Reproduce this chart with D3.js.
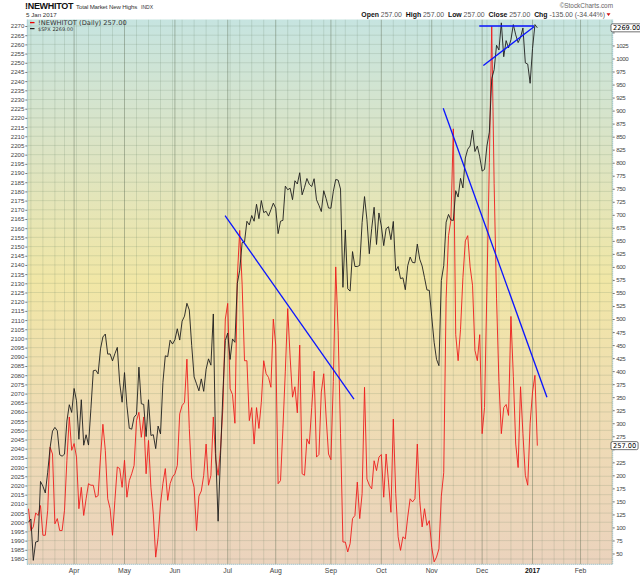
<!DOCTYPE html>
<html>
<head>
<meta charset="utf-8">
<script src="https://cdn.jsdelivr.net/npm/d3@7"></script>
<style>
    html, body { margin: 0; padding: 0; background: #fff; }
    svg { display: block; }
</style>
</head>
<body>
<svg id="chart" width="640" height="576"></svg>
<script>
(function () {
    'use strict';

    // market holidays inside the visible window
    var holidays = ['2016-03-25', '2016-05-30', '2016-07-04', '2016-09-05',
        '2016-11-24', '2016-12-26', '2017-01-02', '2017-01-16', '2017-02-20'];

    // $SPX daily close, 4 Mar 2016 .. 5 Jan 2017
    var spxClose = [
        1999.99, 2001.76, 1979.26, 1989.26, 1989.57, 2022.19, 2019.64, 2015.93, 2027.22, 2040.59,
        2049.58, 2051.60, 2049.80, 2036.71, 2035.94, 2037.05, 2055.01, 2063.95, 2059.74,
        2072.78, 2066.13, 2045.17, 2066.66, 2041.91, 2047.60, 2041.99, 2061.72, 2082.42, 2082.78,
        2080.73, 2094.34, 2100.80, 2102.40, 2091.48, 2091.58, 2087.79, 2091.70, 2095.15, 2075.81, 2065.30,
        2081.43, 2063.37, 2051.12, 2050.63, 2057.14, 2058.69, 2084.39, 2064.46, 2064.11, 2046.61,
        2066.66, 2047.21, 2047.63, 2040.04, 2052.32, 2048.04, 2076.06, 2090.54, 2090.10, 2099.06, 2096.95,
        2099.33, 2105.26, 2099.13, 2109.41, 2112.13, 2119.12, 2115.48, 2096.07, 2079.06, 2075.32,
        2071.50, 2077.99, 2071.22, 2083.25, 2088.90, 2085.45, 2113.32, 2037.41, 2000.54, 2036.09, 2070.77, 2098.86,
        2102.95, 2088.55, 2099.73, 2097.90, 2129.90, 2137.16, 2152.14, 2152.43, 2163.75, 2161.74,
        2166.89, 2163.78, 2173.02, 2165.17, 2175.03, 2168.48, 2169.18, 2166.58, 2170.06, 2173.60,
        2170.84, 2157.03, 2163.79, 2164.25, 2182.87, 2180.89, 2181.74, 2175.49, 2185.79, 2184.05,
        2190.15, 2178.15, 2182.22, 2187.02, 2183.87, 2182.64, 2186.90, 2175.44, 2172.47, 2169.04,
        2180.38, 2176.12, 2170.95,
        2170.86, 2179.98, 2186.48, 2186.16, 2181.30, 2127.81, 2159.04, 2127.02, 2125.77, 2147.26,
        2139.16, 2139.12, 2139.76, 2163.12, 2177.18, 2164.69, 2146.10, 2159.93, 2171.37, 2151.13, 2168.27,
        2161.20, 2150.49, 2159.73, 2160.77, 2153.74, 2163.66, 2136.73, 2139.18, 2132.55, 2132.98,
        2126.50, 2139.60, 2144.29, 2141.34, 2141.16, 2151.33, 2143.16, 2139.43, 2133.04, 2126.41, 2126.15,
        2111.72, 2097.94, 2088.66, 2085.18, 2131.52, 2139.56, 2163.26, 2167.48, 2164.45, 2164.20,
        2180.39, 2176.94, 2187.12, 2181.90, 2198.18, 2202.94, 2204.72, 2213.35, 2201.72, 2204.66, 2198.81,
        2191.08, 2191.95, 2204.71, 2212.23, 2241.35, 2246.19, 2259.53, 2256.96, 2271.72, 2253.28,
        2262.03, 2258.07, 2262.53, 2270.76, 2265.18, 2260.96, 2263.79, 2268.88, 2249.92, 2249.26, 2238.83,
        2257.83, 2270.75, 2269.00
    ];

    // !NEWHITOT daily, same days
    var newHighs = [
        136, 94, 101, 128, 123, 142, 85, 85, 133, 254,
        241, 107, 117, 94, 94, 133, 229, 312, 248, 261,
        235, 136, 177, 123, 155, 184, 181, 181, 158, 161,
        235, 298, 248, 155, 136, 85, 152, 216, 213, 177,
        229, 158, 190, 203, 219, 305, 321, 273, 312, 203,
        267, 177, 126, 43, 81, 145, 184, 213, 152, 184,
        197, 203, 219, 318, 334, 340, 423, 290, 195, 177,
        94, 160, 170, 200, 260, 181, 200, 312, 230, 200,
        250, 330, 500, 530, 366, 355, 300, 580, 670, 567,
        420, 420, 305, 330, 260, 330, 290, 340, 420, 395,
        388, 369, 500, 450, 184, 190, 290, 400, 520, 427,
        350, 370, 320, 450, 203, 200, 270, 260, 330, 400,
        235, 240, 360, 395, 312, 241, 230, 380, 600, 478,
        280, 72, 72, 53, 69, 117, 123, 187, 117, 165,
        369, 193, 181, 174, 228, 209, 235, 240, 158, 241,
        187, 129, 308, 165, 82, 56, 82, 78, 120, 155,
        149, 155, 260, 152, 101, 136, 104, 113, 62, 34,
        43, 59, 160, 205, 540, 660, 690, 865, 470, 420,
        480, 580, 650, 660, 600, 565, 440, 420, 470, 280,
        330, 560, 800, 1062, 760, 540, 380, 280, 330, 336,
        315, 505, 390, 260, 215, 370, 280, 200, 181, 300,
        360, 392, 257
    ];

    var spxTicks = d3.range(1980, 2271, 5),
        highsTicks = d3.range(50, 1051, 25),
        monthLabels = ['Apr', 'May', 'Jun', 'Jul', 'Aug', 'Sep', 'Oct', 'Nov', 'Dec', '2017', 'Feb'];

    // hand drawn trend lines: [day index, $SPX] -> [day index, $SPX]
    var trendLines = [
        [81.9, 2166.8, 135.6, 2067.0],
        [172.8, 2225.2, 216.0, 2068.0],
        [187.8, 2270.0, 210.6, 2270.0],
        [189.5, 2248.5, 210.6, 2269.6]
    ];

    var plot = { left: 27.3, right: 612.7, top: 19.5, bottom: 564.3 },
        svg = d3.select('#chart'),
        boxes = [],
        days,
        monthStarts = [],
        weekStarts = [],
        x, yL, yR, g, grad, head;

    function buildDays(count) {
        var list = [],
            d = new Date(Date.UTC(2016, 2, 4)),
            key;

        while (list.length < count) {
            key = d.toISOString().slice(0, 10);
            if (d.getUTCDay() !== 0 && d.getUTCDay() !== 6 && holidays.indexOf(key) < 0) {
                list.push(new Date(d.getTime()));
            }
            d.setUTCDate(d.getUTCDate() + 1);
        }
        return list;
    }

    function valueBox(text, yPos) {
        var box = svg.append('g'),
            label = box.append('text')
                .attr('x', 613)
                .attr('y', yPos + 2.3)
                .attr('font-family', 'DejaVu Sans')
                .attr('font-size', 6.6)
                .attr('fill', '#000')
                .text(text),
            w = label.node().getComputedTextLength();

        box.insert('rect', 'text')
            .attr('x', 611)
            .attr('y', yPos - 4)
            .attr('width', w + 4)
            .attr('height', 8)
            .attr('rx', 1.5)
            .attr('fill', '#fff')
            .attr('stroke', '#333')
            .attr('stroke-width', 0.7);
    }

    function styleAxis(a, spacing) {
        a.select('.domain').remove();
        a.selectAll('line').attr('stroke', '#777');
        a.selectAll('text')
            .attr('font-family', 'Liberation Sans')
            .attr('font-size', 6.1)
            .attr('letter-spacing', spacing)
            .attr('fill', '#444');
    }

    days = buildDays(246);
    days.forEach(function (d, i) {
        if (i === 0) {
            return;
        }
        if (d.getUTCMonth() !== days[i - 1].getUTCMonth()) {
            monthStarts.push(i);
        } else if (d.getUTCDay() < days[i - 1].getUTCDay()) {
            weekStarts.push(i);
        }
    });

    x = d3.scaleLinear().domain([-0.5, 243.4]).range([plot.left, plot.right]);
    yL = d3.scaleLinear().domain([1980, 2270]).range([559, 26]);
    yR = d3.scaleLinear().domain([50, 1000]).range([553.5, 58.5]);

    boxes = [yL(spxClose[spxClose.length - 1]), yR(newHighs[newHighs.length - 1])];

    svg.append('rect').attr('width', 640).attr('height', 576).attr('fill', '#fff');

    grad = svg.append('defs').append('linearGradient')
        .attr('id', 'bg')
        .attr('x1', 0).attr('y1', 0).attr('x2', 0).attr('y2', 1);
    [[0, '#c6e4e0'], [0.25, '#dde4c3'], [0.48, '#f1e7a6'], [0.72, '#efdcb3'], [1, '#ebd3bd']]
        .forEach(function (s) {
            grad.append('stop').attr('offset', s[0]).attr('stop-color', s[1]);
        });
    svg.select('defs').append('clipPath').attr('id', 'clip')
        .append('rect')
        .attr('x', plot.left).attr('y', plot.top)
        .attr('width', plot.right - plot.left).attr('height', plot.bottom - plot.top);

    svg.append('rect')
        .attr('x', plot.left).attr('y', plot.top)
        .attr('width', plot.right - plot.left).attr('height', plot.bottom - plot.top)
        .attr('fill', 'url(#bg)');

    g = svg.append('g').attr('clip-path', 'url(#clip)');

    // grid
    g.selectAll('line.hgrid')
        .data(spxTicks)
        .enter().append('line')
        .attr('x1', plot.left).attr('x2', plot.right)
        .attr('y1', function (d) { return yL(d); })
        .attr('y2', function (d) { return yL(d); })
        .attr('stroke', 'rgba(95,120,95,0.22)')
        .attr('stroke-width', 0.8);

    g.selectAll('line.wgrid')
        .data(weekStarts)
        .enter().append('line')
        .attr('y1', plot.top).attr('y2', plot.bottom)
        .attr('x1', function (d) { return x(d); })
        .attr('x2', function (d) { return x(d); })
        .attr('stroke', 'rgba(95,120,95,0.22)')
        .attr('stroke-width', 0.8);

    g.selectAll('line.mgrid')
        .data(monthStarts)
        .enter().append('line')
        .attr('y1', plot.top).attr('y2', plot.bottom)
        .attr('x1', function (d) { return x(d); })
        .attr('x2', function (d) { return x(d); })
        .attr('stroke', 'rgba(90,105,80,0.42)')
        .attr('stroke-width', 1);

    // series
    g.append('path')
        .datum(newHighs)
        .attr('fill', 'none')
        .attr('stroke', '#ee1c1c')
        .attr('stroke-width', 0.9)
        .attr('stroke-linejoin', 'round')
        .attr('d', d3.line()
            .x(function (d, i) { return x(i); })
            .y(function (d) { return yR(d); }));

    g.append('path')
        .datum(spxClose)
        .attr('fill', 'none')
        .attr('stroke', '#1e1e1e')
        .attr('stroke-width', 0.9)
        .attr('stroke-linejoin', 'round')
        .attr('d', d3.line()
            .x(function (d, i) { return x(i); })
            .y(function (d) { return yL(d); }));

    g.selectAll('line.trend')
        .data(trendLines)
        .enter().append('line')
        .attr('x1', function (d) { return x(d[0]); })
        .attr('y1', function (d) { return yL(d[1]); })
        .attr('x2', function (d) { return x(d[2]); })
        .attr('y2', function (d) { return yL(d[3]); })
        .attr('stroke', '#0a14ff')
        .attr('stroke-width', 1.3);

    // frame
    svg.append('line')
        .attr('x1', plot.left).attr('x2', plot.left)
        .attr('y1', plot.top).attr('y2', plot.bottom)
        .attr('stroke', '#a9cfd6').attr('stroke-width', 1);
    svg.append('path')
        .attr('d', 'M' + plot.left + ',' + plot.bottom + 'H' + plot.right + 'V' + plot.top)
        .attr('fill', 'none')
        .attr('stroke', '#7fb2c4')
        .attr('stroke-width', 1)
        .attr('stroke-dasharray', '1,1');

    // axes
    svg.append('g')
        .attr('transform', 'translate(' + plot.left + ',0)')
        .call(d3.axisLeft(yL).tickValues(spxTicks).tickFormat(d3.format('d'))
            .tickSize(2).tickPadding(1))
        .call(styleAxis, 0);

    svg.append('g')
        .attr('transform', 'translate(' + plot.right + ',0)')
        .call(d3.axisRight(yR).tickValues(highsTicks).tickFormat(d3.format('d'))
            .tickSize(2).tickPadding(1.5))
        .call(styleAxis, -0.4)
        .selectAll('.tick')
        .filter(function (d) {
            return boxes.some(function (b) { return Math.abs(yR(d) - b) < 6; });
        })
        .select('text')
        .remove();

    svg.append('g')
        .selectAll('text')
        .data(monthStarts)
        .enter().append('text')
        .attr('x', function (d) { return x(d); })
        .attr('y', 573)
        .attr('text-anchor', 'middle')
        .attr('font-family', 'Liberation Sans')
        .attr('font-size', 6.8)
        .attr('font-weight', function (d, i) { return monthLabels[i] === '2017' ? 'bold' : 'normal'; })
        .attr('fill', function (d, i) { return monthLabels[i] === '2017' ? '#111' : '#444'; })
        .text(function (d, i) { return monthLabels[i]; });

    // header
    svg.append('text')
        .attr('x', 25).attr('y', 9.3)
        .attr('font-family', 'Liberation Sans')
        .attr('font-size', 9)
        .attr('font-weight', 'bold')
        .attr('letter-spacing', -0.3)
        .attr('fill', '#111')
        .text('!NEWHITOT');
    head = svg.append('text')
        .attr('x', 76).attr('y', 9.3)
        .attr('font-family', 'Liberation Sans')
        .attr('font-size', 6.1)
        .attr('letter-spacing', -0.15)
        .attr('fill', '#333')
        .text('Total Market New Highs');
    svg.append('text')
        .attr('x', 76 + head.node().getComputedTextLength() + 4).attr('y', 9.3)
        .attr('font-family', 'Liberation Sans')
        .attr('font-size', 5)
        .attr('fill', '#333')
        .text('INDX');
    svg.append('text')
        .attr('x', 26).attr('y', 17.2)
        .attr('font-family', 'Liberation Sans')
        .attr('font-size', 6.2)
        .attr('fill', '#333')
        .text('5 Jan 2017');

    svg.append('text')
        .attr('x', 613).attr('y', 8)
        .attr('text-anchor', 'end')
        .attr('font-family', 'Liberation Sans')
        .attr('font-size', 6.4)
        .attr('fill', '#666')
        .text('\u00a9StockCharts.com');

    (function () {
        var t = svg.append('text')
                .attr('x', 605).attr('y', 16.5)
                .attr('text-anchor', 'end')
                .attr('xml:space', 'preserve')
                .attr('font-family', 'Liberation Sans')
                .attr('font-size', 6.9),
            parts = [['Open', true], [' 257.00  ', false], ['High', true], [' 257.00  ', false],
                ['Low', true], [' 257.00  ', false], ['Close', true], [' 257.00  ', false],
                ['Chg', true], [' -135.00 (-34.44%)', false]];

        parts.forEach(function (p) {
            t.append('tspan')
                .attr('font-weight', p[1] ? 'bold' : 'normal')
                .attr('fill', p[1] ? '#111' : '#555')
                .text(p[0]);
        });
    }());
    svg.append('path')
        .attr('d', 'M606.5,13.3 L610.5,13.3 L608.5,16 Z')
        .attr('fill', '#d01010');

    // legend
    svg.append('line')
        .attr('x1', 30).attr('x2', 34.5).attr('y1', 22.6).attr('y2', 22.6)
        .attr('stroke', '#e00').attr('stroke-width', 1.3);
    svg.append('text')
        .attr('x', 38).attr('y', 25)
        .attr('font-family', 'DejaVu Sans')
        .attr('font-size', 6.7)
        .attr('fill', '#333')
        .text('!NEWHITOT (Daily) 257.00');
    svg.append('line')
        .attr('x1', 30).attr('x2', 34.5).attr('y1', 28.6).attr('y2', 28.6)
        .attr('stroke', '#222').attr('stroke-width', 1.2);
    svg.append('text')
        .attr('x', 38).attr('y', 31)
        .attr('font-family', 'DejaVu Sans')
        .attr('font-size', 5)
        .attr('fill', '#333')
        .text('$SPX 2269.00');

    valueBox('2269.00', boxes[0]);
    valueBox('257.00', boxes[1]);
}());
</script>
</body>
</html>
